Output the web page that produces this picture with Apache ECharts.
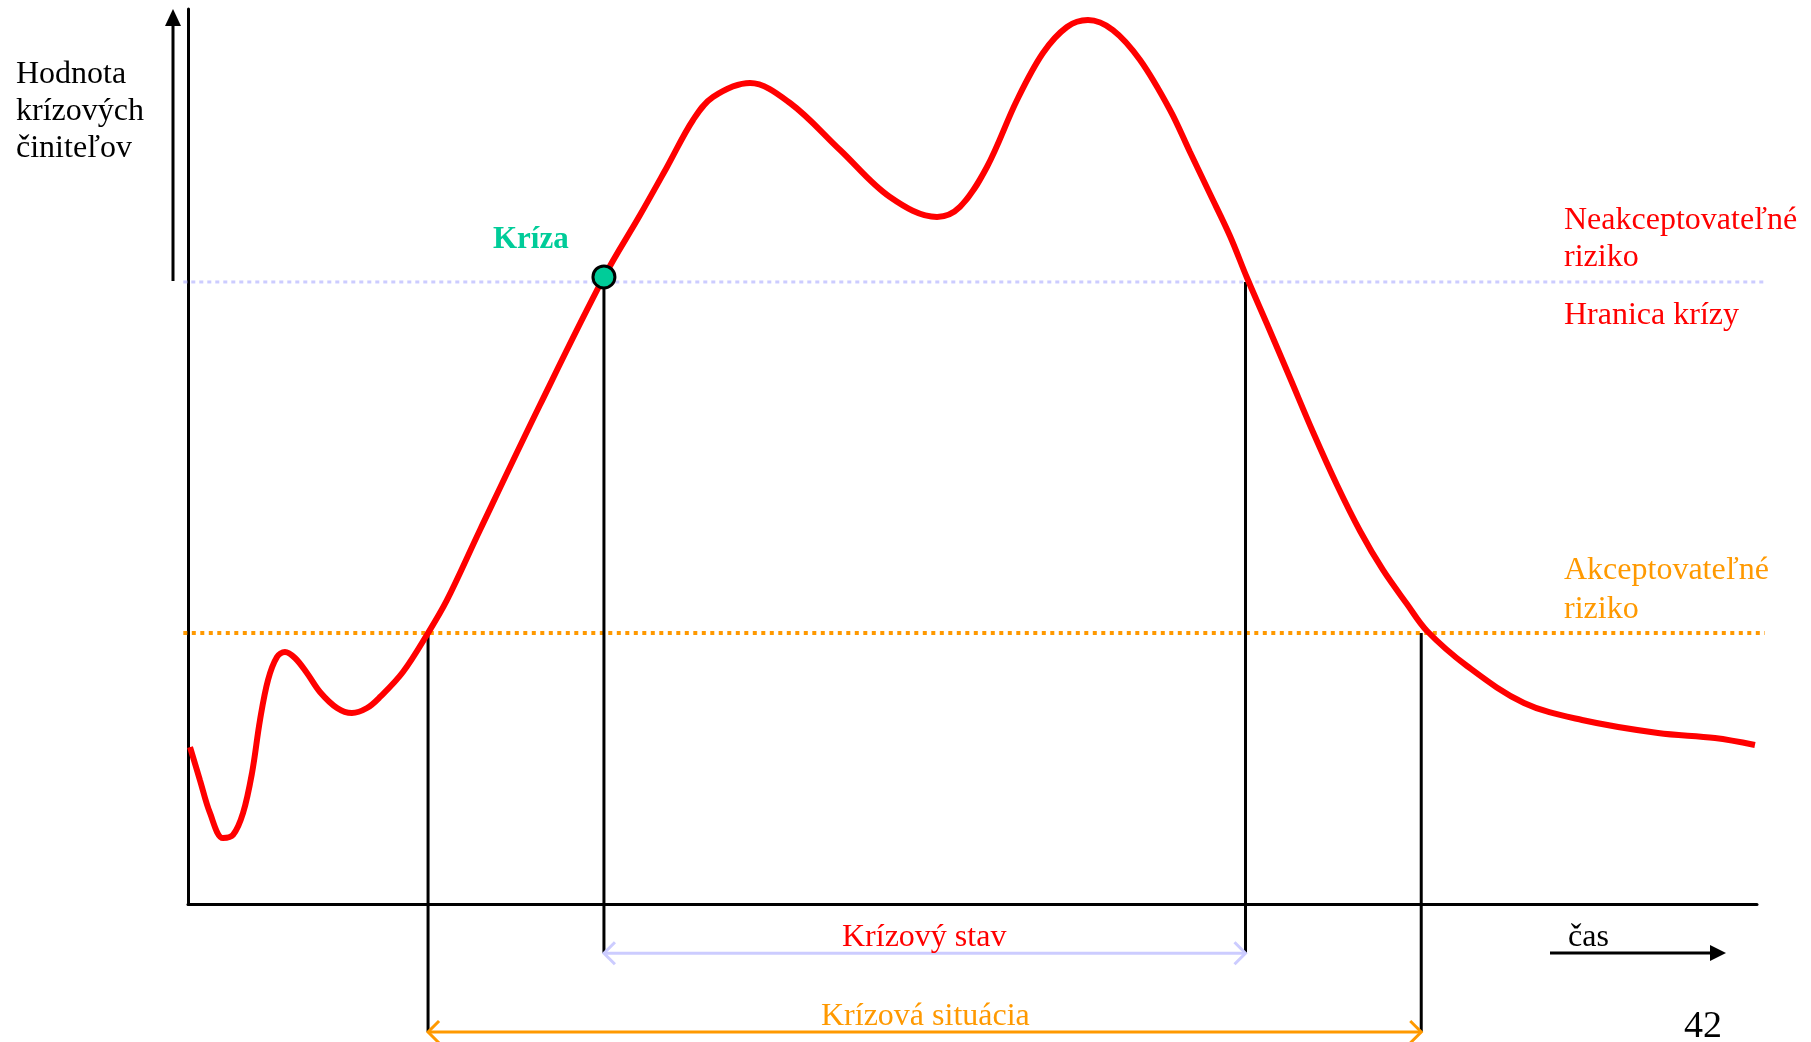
<!DOCTYPE html>
<html>
<head>
<meta charset="utf-8">
<script src="https://cdn.jsdelivr.net/npm/echarts@6/dist/echarts.min.js"></script>
<style>
  html, body { margin: 0; padding: 0; background: #fff; }
  #main { width: 1811px; height: 1042px; }
</style>
</head>
<body>
<div id="main"></div>
<script>
// krivka krízových činiteľov (čas 0..100, hodnota 0..100)
const timeX = [0.13, 0.76, 1.40, 2.23, 2.87, 3.51, 4.08, 4.59, 5.10, 5.67, 6.18, 6.82, 7.58, 8.41, 9.50, 10.45, 11.41, 12.24, 13.70, 15.30, 16.51, 18.61, 22.43, 26.51, 28.81, 30.53, 32.19, 33.46, 35.82, 38.37, 41.56, 44.74, 47.74, 49.20, 50.92, 52.84, 54.49, 56.02, 57.36, 58.95, 60.68, 62.59, 63.86, 65.14, 66.41, 67.50, 68.77, 70.24, 71.70, 73.23, 74.70, 76.16, 77.69, 78.97, 81.52, 85.15, 88.85, 93.69, 97.32, 99.87];
const riskValue = [17.54, 13.85, 10.17, 7.37, 7.71, 10.17, 14.64, 20.56, 25.03, 27.60, 28.16, 27.49, 25.81, 23.69, 21.90, 21.34, 21.90, 23.13, 25.92, 30.28, 33.97, 41.79, 55.75, 70.06, 76.98, 82.35, 87.60, 90.17, 91.73, 89.50, 84.25, 78.99, 76.76, 77.88, 82.35, 89.83, 95.08, 97.99, 98.77, 97.65, 94.30, 88.72, 84.02, 79.33, 74.64, 69.94, 64.80, 58.77, 52.74, 46.82, 41.68, 37.32, 33.52, 30.50, 26.59, 22.46, 20.56, 19.11, 18.55, 17.77];

// úrovne: [hodnota, od, do]
const levels = [[69.5, -0.3, 100.5], [30.28, -0.3, 100.5]];
const levelColors = ['#ccccff', '#ff9900'];
const levelWidths = [3, 4];
const krizaPoint = [26.51, 70.06];

// zvislé čiary: [čas, od, do]
const drops = [[15.3, 30.28, -14.3], [26.51, 70.06, -5.5], [67.4, 69.5, -5.5], [78.6, 30.28, -14.3]];
// obojsmerné šípky: [od, do, výška]
const spans = [[26.51, 67.4, -5.5], [15.3, 78.6, -14.3]];
const spanColors = ['#ccccff', '#ff9900'];

const serif = "'Liberation Serif', 'Times New Roman', serif";

var myChart = echarts.init(document.getElementById('main'));

function txt(x, y, text, color, font, extra) {
  return {
    type: 'text', left: x, top: y, z: 100,
    style: Object.assign({ text: text, fill: color, font: font + ' ' + serif }, extra || {})
  };
}

var option = {
  animation: false,
  backgroundColor: '#fff',
  grid: { left: 188, right: 54, top: 9, bottom: 138 },
  xAxis: {
    type: 'value', min: 0, max: 100,
    axisLine: { show: true, lineStyle: { color: '#000', width: 3 } },
    axisTick: { show: false }, axisLabel: { show: false }, splitLine: { show: false }
  },
  yAxis: {
    type: 'value', min: 0, max: 100,
    axisLine: { show: true, lineStyle: { color: '#000', width: 3 } },
    axisTick: { show: false }, axisLabel: { show: false }, splitLine: { show: false }
  },
  series: [
    {
      type: 'custom', z: 1, clip: false,
      data: levels,
      renderItem: function (params, api) {
        const a = api.coord([api.value(1), api.value(0)]);
        const b = api.coord([api.value(2), api.value(0)]);
        const i = params.dataIndex;
        return {
          type: 'line',
          shape: { x1: a[0], y1: a[1], x2: b[0], y2: b[1] },
          style: { stroke: levelColors[i], lineWidth: levelWidths[i], lineDash: i ? [4, 4.5] : [4, 4] }
        };
      }
    },
    {
      type: 'custom', z: 2, clip: false,
      data: drops,
      renderItem: function (params, api) {
        const a = api.coord([api.value(0), api.value(1)]);
        const b = api.coord([api.value(0), api.value(2)]);
        return {
          type: 'line',
          shape: { x1: a[0], y1: a[1], x2: b[0], y2: b[1] },
          style: { stroke: '#000', lineWidth: 3 }
        };
      }
    },
    {
      type: 'custom', z: 2, clip: false,
      data: spans,
      renderItem: function (params, api) {
        const p = api.coord([api.value(0), api.value(2)]);
        const q = api.coord([api.value(1), api.value(2)]);
        const h = 11;
        const st = { stroke: spanColors[params.dataIndex], lineWidth: 3, fill: null };
        return {
          type: 'group',
          children: [
            { type: 'line', shape: { x1: p[0], y1: p[1], x2: q[0], y2: q[1] }, style: st },
            { type: 'polyline', shape: { points: [[p[0] + h, p[1] - h], p, [p[0] + h, p[1] + h]] }, style: st },
            { type: 'polyline', shape: { points: [[q[0] - h, q[1] - h], q, [q[0] - h, q[1] + h]] }, style: st }
          ]
        };
      }
    },
    {
      type: 'line', clip: false, z: 3, smooth: 0.35, showSymbol: false, silent: true,
      data: timeX.map((x, i) => [x, riskValue[i]]),
      lineStyle: { color: '#ff0000', width: 6 }
    },
    {
      type: 'scatter', z: 5, silent: true,
      data: [krizaPoint],
      symbolSize: 22,
      itemStyle: { color: '#00cc99', borderColor: '#000', borderWidth: 3, opacity: 1 }
    }
  ],
  graphic: [
    // os hodnoty - šípka
    { type: 'line', shape: { x1: 173, y1: 281, x2: 173, y2: 22 }, style: { stroke: '#000', lineWidth: 3 } },
    { type: 'polygon', shape: { points: [[173, 9], [165, 26], [181, 26]] }, style: { fill: '#000' } },
    // čas - šípka
    { type: 'line', shape: { x1: 1550, y1: 953, x2: 1712, y2: 953 }, style: { stroke: '#000', lineWidth: 3 } },
    { type: 'polygon', shape: { points: [[1726, 953], [1710, 945], [1710, 961]] }, style: { fill: '#000' } },

    txt(16, 56, 'Hodnota\nkrízových\nčiniteľov', '#000', '32px', { lineHeight: 37 }),
    txt(1564, 202, 'Neakceptovateľné\nriziko', '#ff0000', '32px', { lineHeight: 37 }),
    txt(1564, 297, 'Hranica krízy', '#ff0000', '32px', { lineHeight: 37 }),
    txt(1564, 551, 'Akceptovateľné\nriziko', '#ff9900', '32px', { lineHeight: 39 }),
    txt(1568, 919, 'čas', '#000', '32px', { lineHeight: 37 }),
    txt(1684, 1007, '42', '#000', '38px', { lineHeight: 40 }),
    txt(493, 221, 'Kríza', '#00cc99', 'bold 31px', { lineHeight: 37 }),
    txt(842, 919, 'Krízový stav', '#ff0000', '32px', { lineHeight: 37 }),
    txt(821, 998, 'Krízová situácia', '#ff9900', '32px', { lineHeight: 37 })
  ]
};

myChart.setOption(option, true);
</script>
</body>
</html>
